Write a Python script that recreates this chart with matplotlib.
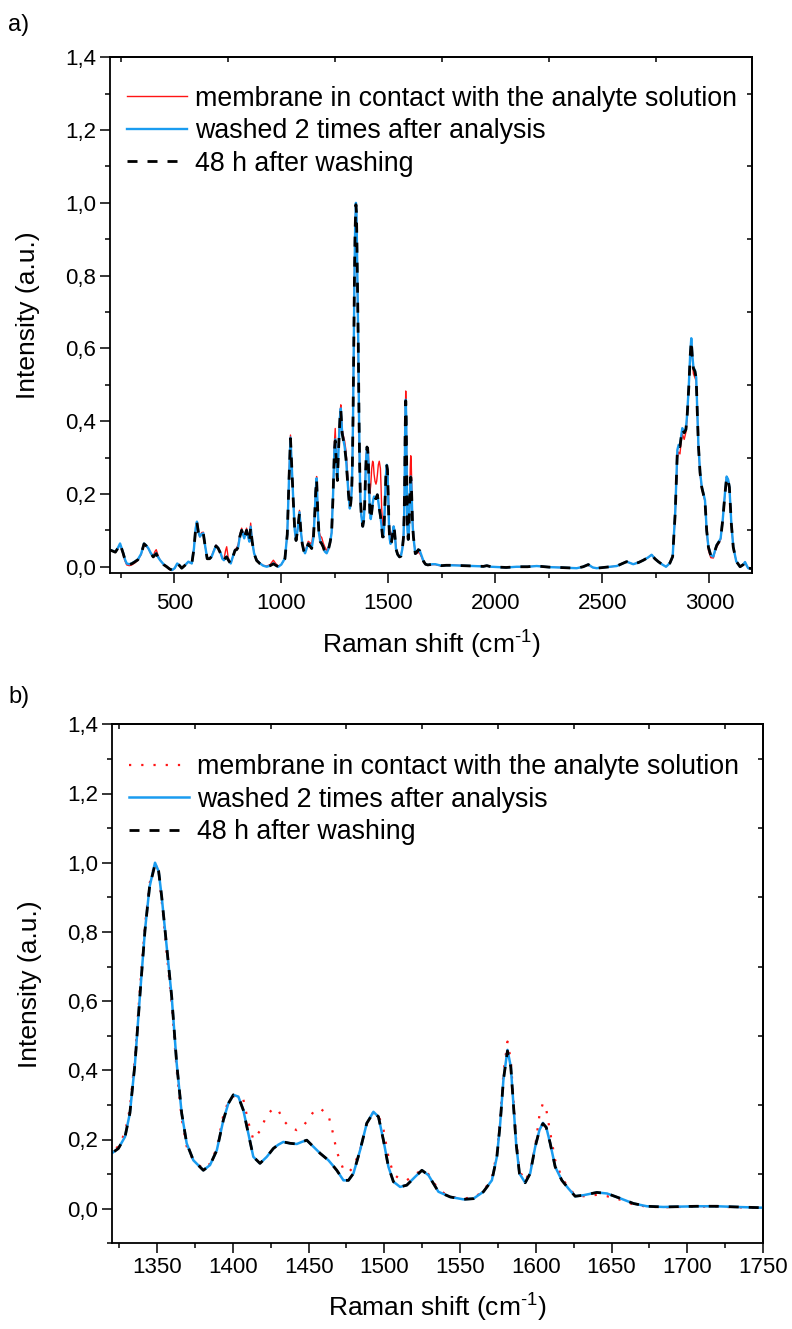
import matplotlib
matplotlib.use("Agg")
import matplotlib.pyplot as plt
from matplotlib.ticker import MultipleLocator, FuncFormatter, NullLocator

plt.rcParams['font.family'] = ['Liberation Sans', 'DejaVu Sans']
plt.rcParams['mathtext.fontset'] = 'custom'
plt.rcParams['mathtext.rm'] = 'Liberation Sans'
plt.rcParams['mathtext.it'] = 'Liberation Sans:italic'

# ---------------- data ----------------
raman_shift = [
    200, 212, 225, 237, 247, 255, 262, 270, 278, 290,
    301, 315, 330, 345, 359, 370, 379, 390, 402, 410,
    416, 425, 434, 450, 465, 478, 490, 502, 514, 525,
    535, 550, 566, 582, 592, 600, 606, 613, 620, 628,
    636, 645, 654, 665, 675, 686, 695, 705, 717, 725,
    732, 740, 745, 752, 764, 775, 784, 792, 799, 807,
    815, 821, 827, 833, 838, 844, 851, 857, 864, 873,
    885, 901, 915, 932, 948, 963, 975, 986, 1000, 1017,
    1028, 1036, 1043, 1050, 1056, 1063, 1069, 1077, 1085, 1092,
    1098, 1105, 1111, 1118, 1126, 1134, 1142, 1150, 1156, 1161,
    1165, 1170, 1176, 1182, 1189, 1196, 1203, 1212, 1220, 1228,
    1235, 1242, 1248, 1252, 1257, 1262, 1268, 1274, 1278, 1284,
    1290, 1296, 1302, 1308, 1314,
    1320, 1324.4, 1328.8, 1332, 1335.4, 1338.7, 1342, 1345, 1348.6, 1351,
    1353, 1356.3, 1359.6, 1362.9, 1366.2, 1369.5, 1373.9, 1380.5, 1384.9, 1389.4,
    1393.7, 1397, 1400.3, 1403.6, 1406.9, 1410.2, 1413.5, 1417.9, 1422.4, 1426.7,
    1430, 1433.3, 1437.8, 1442.2, 1445.5, 1448.8, 1453.2, 1457.6, 1463.1, 1466,
    1468.6, 1473, 1476.3, 1479.6, 1484, 1488.4, 1492.8, 1496.1, 1499.4, 1502.7,
    1506, 1510.4, 1514.8, 1520.3, 1524.8, 1529.1, 1535.7, 1543.5, 1552.2, 1558.8,
    1565.4, 1571, 1574.3, 1576.5, 1578.6, 1581.3, 1583.5, 1585.3, 1587, 1589.2,
    1593, 1596.3, 1599.6, 1602.4, 1604.7, 1606.9, 1609.5, 1612.8, 1617.2, 1621.6,
    1626, 1631.5, 1640.3, 1647, 1655.7, 1664.5, 1673.4, 1684.3, 1706.4, 1719.6,
    1732.8, 1748.2,
    1770, 1800, 1850, 1900, 1944, 1960, 1980, 2050, 2100, 2150,
    2193, 2250, 2300, 2380, 2410, 2434, 2455, 2473, 2520, 2567,
    2590, 2613, 2630, 2644, 2670, 2691, 2712, 2730, 2745, 2761,
    2780, 2797, 2815, 2828, 2840, 2850, 2856, 2862, 2868, 2873,
    2882, 2890, 2896, 2904, 2910, 2915, 2920, 2925, 2932, 2938,
    2948, 2956, 2964, 2972, 2979, 2987, 2995, 3006, 3018, 3026,
    3034, 3045, 3052, 3062, 3072, 3080, 3087, 3093, 3102, 3111,
    3125, 3143, 3158, 3166, 3175, 3181, 3200,
]

membrane_contact = [
    0.046, 0.044, 0.040, 0.050, 0.062, 0.048, 0.033, 0.016, 0.005, 0.003,
    0.005, 0.010, 0.018, 0.033, 0.062, 0.056, 0.050, 0.036, 0.030, 0.042,
    0.047, 0.030, 0.018, 0.006, 0.000, -0.008, -0.010, -0.004, 0.008, 0.003,
    -0.004, 0.004, 0.013, 0.009, 0.050, 0.100, 0.120, 0.094, 0.082, 0.094,
    0.095, 0.055, 0.023, 0.024, 0.030, 0.047, 0.060, 0.052, 0.037, 0.022,
    0.020, 0.045, 0.055, 0.025, 0.010, 0.030, 0.048, 0.052, 0.062, 0.090,
    0.106, 0.092, 0.080, 0.096, 0.106, 0.086, 0.072, 0.120, 0.072, 0.037,
    0.020, 0.010, 0.004, 0.002, 0.006, 0.018, 0.008, 0.002, 0.006, 0.023,
    0.090, 0.245, 0.362, 0.262, 0.186, 0.100, 0.073, 0.110, 0.155, 0.095,
    0.066, 0.046, 0.040, 0.055, 0.070, 0.066, 0.062, 0.100, 0.150, 0.215,
    0.248, 0.165, 0.100, 0.085, 0.080, 0.065, 0.055, 0.045, 0.052, 0.070,
    0.095, 0.210, 0.340, 0.380, 0.300, 0.245, 0.340, 0.420, 0.445, 0.380,
    0.360, 0.345, 0.320, 0.270, 0.215,
    0.165, 0.180, 0.220, 0.290, 0.440, 0.640, 0.820, 0.940, 1.000, 0.970,
    0.890, 0.740, 0.590, 0.400, 0.260, 0.180, 0.140, 0.115, 0.130, 0.175,
    0.270, 0.310, 0.325, 0.325, 0.316, 0.250, 0.200, 0.225, 0.270, 0.290,
    0.285, 0.255, 0.235, 0.227, 0.235, 0.252, 0.280, 0.290, 0.270, 0.220,
    0.165, 0.113, 0.105, 0.120, 0.170, 0.245, 0.280, 0.270, 0.230, 0.150,
    0.100, 0.085, 0.082, 0.100, 0.111, 0.100, 0.055, 0.034, 0.030, 0.032,
    0.050, 0.090, 0.160, 0.260, 0.390, 0.483, 0.430, 0.310, 0.200, 0.110,
    0.080, 0.110, 0.180, 0.270, 0.305, 0.287, 0.220, 0.140, 0.090, 0.060,
    0.040, 0.036, 0.040, 0.036, 0.026, 0.012, 0.006, 0.004, 0.006, 0.006,
    0.004, 0.002,
    0.004, 0.005, 0.003, 0.002, 0.001, 0.002, 0.000, -0.002, 0.000, 0.000,
    0.002, -0.001, -0.002, -0.004, 0.000, 0.005, -0.002, -0.004, -0.001, 0.002,
    0.008, 0.014, 0.010, 0.007, 0.012, 0.018, 0.025, 0.033, 0.022, 0.014,
    0.006, 0.000, 0.010, 0.026, 0.140, 0.300, 0.315, 0.310, 0.345, 0.365,
    0.350, 0.370, 0.410, 0.500, 0.580, 0.620, 0.575, 0.530, 0.520, 0.510,
    0.335, 0.255, 0.215, 0.195, 0.180, 0.095, 0.045, 0.025, 0.024, 0.042,
    0.055, 0.066, 0.075, 0.128, 0.200, 0.248, 0.240, 0.220, 0.120, 0.055,
    0.015, 0.000, 0.006, 0.013, 0.002, -0.004, -0.005,
]

washed_twice = [
    0.046, 0.044, 0.041, 0.052, 0.064, 0.050, 0.037, 0.020, 0.009, 0.007,
    0.009, 0.014, 0.020, 0.035, 0.064, 0.058, 0.051, 0.038, 0.028, 0.033,
    0.037, 0.026, 0.018, 0.007, 0.000, -0.006, -0.009, -0.004, 0.009, 0.004,
    -0.004, 0.004, 0.014, 0.009, 0.050, 0.105, 0.124, 0.095, 0.083, 0.090,
    0.092, 0.055, 0.023, 0.022, 0.028, 0.045, 0.058, 0.052, 0.037, 0.022,
    0.018, 0.026, 0.028, 0.020, 0.009, 0.030, 0.046, 0.048, 0.055, 0.085,
    0.101, 0.090, 0.078, 0.092, 0.101, 0.085, 0.069, 0.110, 0.070, 0.037,
    0.018, 0.009, 0.003, 0.000, 0.003, 0.009, 0.004, 0.000, 0.006, 0.023,
    0.090, 0.240, 0.355, 0.260, 0.183, 0.100, 0.073, 0.105, 0.150, 0.095,
    0.064, 0.045, 0.037, 0.050, 0.064, 0.058, 0.051, 0.080, 0.140, 0.210,
    0.243, 0.160, 0.092, 0.070, 0.064, 0.055, 0.042, 0.037, 0.048, 0.068,
    0.092, 0.200, 0.320, 0.350, 0.290, 0.239, 0.330, 0.410, 0.435, 0.370,
    0.350, 0.330, 0.300, 0.250, 0.200,
    0.160, 0.174, 0.208, 0.276, 0.421, 0.620, 0.806, 0.930, 1.000, 0.975,
    0.902, 0.758, 0.613, 0.420, 0.276, 0.189, 0.140, 0.111, 0.126, 0.169,
    0.256, 0.304, 0.329, 0.324, 0.285, 0.218, 0.150, 0.131, 0.150, 0.174,
    0.185, 0.193, 0.189, 0.187, 0.193, 0.198, 0.179, 0.160, 0.140, 0.125,
    0.111, 0.082, 0.082, 0.102, 0.169, 0.247, 0.280, 0.266, 0.198, 0.121,
    0.078, 0.063, 0.068, 0.092, 0.111, 0.097, 0.049, 0.034, 0.027, 0.029,
    0.049, 0.082, 0.150, 0.247, 0.372, 0.459, 0.410, 0.295, 0.189, 0.102,
    0.075, 0.102, 0.179, 0.227, 0.248, 0.235, 0.189, 0.121, 0.082, 0.058,
    0.036, 0.039, 0.047, 0.044, 0.030, 0.015, 0.007, 0.005, 0.007, 0.007,
    0.005, 0.003,
    0.004, 0.004, 0.003, 0.002, 0.001, 0.003, 0.000, -0.002, 0.000, 0.000,
    0.002, -0.001, -0.002, -0.004, 0.000, 0.006, -0.002, -0.004, -0.001, 0.002,
    0.008, 0.014, 0.010, 0.007, 0.012, 0.018, 0.025, 0.033, 0.022, 0.014,
    0.006, 0.000, 0.010, 0.028, 0.150, 0.321, 0.335, 0.333, 0.360, 0.381,
    0.371, 0.380, 0.420, 0.505, 0.585, 0.628, 0.580, 0.548, 0.540, 0.520,
    0.339, 0.260, 0.220, 0.200, 0.183, 0.100, 0.055, 0.032, 0.028, 0.045,
    0.060, 0.070, 0.078, 0.130, 0.200, 0.248, 0.240, 0.220, 0.120, 0.055,
    0.015, 0.000, 0.006, 0.013, 0.002, -0.004, -0.005,
]

after_48h = [
    0.046, 0.043, 0.040, 0.051, 0.063, 0.049, 0.036, 0.019, 0.008, 0.006,
    0.008, 0.013, 0.019, 0.034, 0.063, 0.057, 0.050, 0.037, 0.027, 0.032,
    0.036, 0.025, 0.017, 0.006, 0.000, -0.006, -0.009, -0.004, 0.008, 0.003,
    -0.004, 0.004, 0.013, 0.008, 0.049, 0.104, 0.122, 0.094, 0.082, 0.089,
    0.091, 0.054, 0.022, 0.022, 0.028, 0.045, 0.057, 0.051, 0.036, 0.021,
    0.017, 0.025, 0.027, 0.019, 0.008, 0.029, 0.045, 0.047, 0.054, 0.084,
    0.100, 0.089, 0.077, 0.091, 0.100, 0.084, 0.068, 0.108, 0.069, 0.036,
    0.017, 0.008, 0.003, 0.000, 0.003, 0.008, 0.004, 0.000, 0.006, 0.022,
    0.089, 0.238, 0.352, 0.258, 0.182, 0.099, 0.072, 0.104, 0.148, 0.094,
    0.063, 0.044, 0.036, 0.049, 0.063, 0.057, 0.050, 0.079, 0.139, 0.208,
    0.240, 0.158, 0.091, 0.069, 0.063, 0.054, 0.041, 0.036, 0.047, 0.067,
    0.091, 0.198, 0.318, 0.346, 0.288, 0.237, 0.328, 0.407, 0.432, 0.368,
    0.348, 0.328, 0.298, 0.248, 0.199,
    0.160, 0.174, 0.208, 0.276, 0.421, 0.620, 0.806, 0.930, 0.995, 0.975,
    0.902, 0.758, 0.613, 0.420, 0.276, 0.189, 0.140, 0.111, 0.126, 0.169,
    0.256, 0.304, 0.329, 0.324, 0.285, 0.218, 0.150, 0.131, 0.150, 0.174,
    0.185, 0.193, 0.189, 0.187, 0.193, 0.198, 0.179, 0.160, 0.140, 0.125,
    0.111, 0.082, 0.082, 0.102, 0.169, 0.247, 0.278, 0.266, 0.198, 0.121,
    0.078, 0.063, 0.068, 0.092, 0.111, 0.097, 0.049, 0.034, 0.027, 0.029,
    0.049, 0.082, 0.150, 0.247, 0.372, 0.456, 0.410, 0.295, 0.189, 0.102,
    0.075, 0.102, 0.179, 0.227, 0.246, 0.235, 0.189, 0.121, 0.082, 0.058,
    0.036, 0.039, 0.047, 0.044, 0.030, 0.015, 0.007, 0.005, 0.007, 0.007,
    0.005, 0.003,
    0.004, 0.004, 0.003, 0.002, 0.001, 0.003, 0.000, -0.002, 0.000, 0.000,
    0.002, -0.001, -0.002, -0.004, 0.000, 0.006, -0.002, -0.004, -0.001, 0.002,
    0.008, 0.014, 0.010, 0.007, 0.012, 0.018, 0.025, 0.033, 0.022, 0.014,
    0.006, 0.000, 0.010, 0.028, 0.148, 0.318, 0.332, 0.330, 0.357, 0.378,
    0.368, 0.377, 0.417, 0.500, 0.580, 0.620, 0.575, 0.545, 0.537, 0.517,
    0.337, 0.258, 0.218, 0.198, 0.181, 0.099, 0.054, 0.031, 0.028, 0.045,
    0.059, 0.069, 0.077, 0.129, 0.198, 0.245, 0.238, 0.218, 0.119, 0.054,
    0.015, 0.000, 0.006, 0.013, 0.002, -0.004, -0.005,
]

labels = ["membrane in contact with the analyte solution",
          "washed 2 times after analysis",
          "48 h after washing"]
y_tick_values = [0.0, 0.2, 0.4, 0.6, 0.8, 1.0, 1.2, 1.4]

RED = "#ff1414"
BLUE = "#1a9cf0"

fig = plt.figure(figsize=(7.92, 13.29), dpi=100)
W, H = 792.0, 1329.0
axa = fig.add_axes([110 / W, 1 - 573.3 / H, 642.3 / W, 516 / H])
axb = fig.add_axes([111.7 / W, 1 - 1243.3 / H, 651.3 / W, 519 / H])

comma = FuncFormatter(lambda v, p: f"{v:.1f}".replace(".", ","))


def style(ax, xlim, ylim, xmajor, top_ticks, right_ticks, xpad, xlabelpad):
    ax.set_xlim(*xlim)
    ax.set_ylim(*ylim)
    ax.xaxis.set_major_locator(MultipleLocator(xmajor))
    ax.xaxis.set_minor_locator(MultipleLocator(xmajor / 2))
    ax.set_yticks(y_tick_values)
    ax.yaxis.set_minor_locator(MultipleLocator(0.1))
    ax.yaxis.set_major_formatter(comma)
    ax.tick_params(which="both", direction="out", top=False, right=False,
                   width=1.1, labelsize=16, pad=3, colors="black")
    ax.tick_params(axis="x", which="both", pad=xpad)
    ax.tick_params(which="major", length=7)
    ax.tick_params(which="minor", length=3.6)
    for s in ax.spines.values():
        s.set_linewidth(1.3)
    sx = ax.secondary_xaxis("top")
    sx.set_xticks(top_ticks)
    sx.xaxis.set_minor_locator(NullLocator())
    sx.tick_params(direction="in", length=3.6, width=1.1, labeltop=False)
    sx.spines["top"].set_linewidth(1.3)
    sy = ax.secondary_yaxis("right")
    sy.set_yticks(right_ticks)
    sy.yaxis.set_minor_locator(NullLocator())
    sy.tick_params(direction="in", length=3.6, width=1.1, labelright=False)
    sy.spines["right"].set_linewidth(1.3)
    ax.set_xlabel(r"Raman shift (cm$^{\text{-}1}$)", fontsize=19,
                  labelpad=xlabelpad)
    ax.set_ylabel("Intensity (a.u.)", fontsize=19, labelpad=18)


odd_tenths = [0.1, 0.3, 0.5, 0.7, 0.9, 1.1, 1.3]

# ---------------- panel a ----------------
axa.plot(raman_shift, membrane_contact, color=RED, lw=1.0, label=labels[0])
axa.plot(raman_shift, washed_twice, color=BLUE, lw=1.7, label=labels[1])
axa.plot(raman_shift, after_48h, color="black", lw=2.0, dashes=(3.6, 3.6),
         label=labels[2])
style(axa, (200, 3200), (-0.018, 1.4), 500,
      [250, 750, 1250, 1750, 2250, 2750], odd_tenths, 7, 10.5)
axa.legend(loc="upper left", bbox_to_anchor=(0.026, 0.945), frameon=False,
           fontsize=19.3, handlelength=2.25, handletextpad=0.3,
           labelspacing=0.24, borderpad=0, borderaxespad=0)

# ---------------- panel b ----------------
axb.plot(raman_shift, membrane_contact, color=RED, lw=1.6,
         linestyle=(0, (1, 4.5)), label=labels[0])
axb.plot(raman_shift, washed_twice, color=BLUE, lw=1.8, label=labels[1])
axb.plot(raman_shift, after_48h, color="black", lw=2.0, dashes=(3.6, 3.6),
         label=labels[2])
style(axb, (1320, 1750), (-0.1, 1.4), 50,
      [1325, 1375, 1425, 1475, 1525, 1575, 1625, 1675, 1725], odd_tenths,
      3, 10)
axb.legend(loc="upper left", bbox_to_anchor=(0.026, 0.942), frameon=False,
           fontsize=19.3, handlelength=2.25, handletextpad=0.3,
           labelspacing=0.24, borderpad=0, borderaxespad=0)

fig.text(8 / W, 1 - 25 / H, "a)", fontsize=17, va="center", ha="left")
fig.text(8 / W, 1 - 697 / H, "b)", fontsize=17, va="center", ha="left")

fig.savefig("out.png", dpi=100)
